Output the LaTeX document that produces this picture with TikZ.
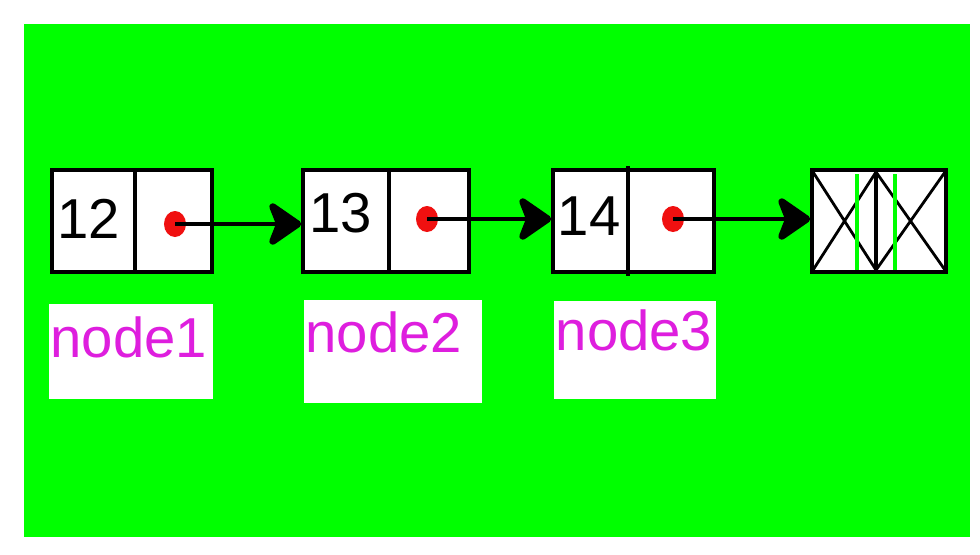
\documentclass[tikz,border=0pt]{standalone}
\usepackage{fontspec}
\setmainfont{Liberation Sans}
\usetikzlibrary{arrows.meta,shapes.geometric}
\definecolor{bggreen}{RGB}{0,255,0}
\definecolor{labelmag}{RGB}{222,30,222}
\definecolor{dotred}{RGB}{240,16,16}

\begin{document}
\begin{tikzpicture}[x=0.01cm, y=-0.01cm,
  listbox/.style={draw=black, line width=1pt, fill=white, inner sep=0pt, minimum height=1.02cm},
  ptrdot/.style={ellipse, fill=dotred, inner sep=0pt, minimum width=0.22cm, minimum height=0.26cm},
  ptr/.style={line width=1.4pt, -{Stealth[length=3.8mm, width=5.2mm, inset=1mm, round, line width=3pt 0 1]}},
  valtext/.style={anchor=base west, inner sep=0pt, font=\fontsize{16}{18}\selectfont},
  labbox/.style={fill=white, inner sep=0pt, anchor=north west},
  labtext/.style={anchor=base west, inner sep=0pt, text=labelmag, font=\fontsize{16}{18}\selectfont}]
  \useasboundingbox (0,0) rectangle (980,554);
  % Green background
  \fill[bggreen] (24,24) rectangle (970,537);

  % List nodes
  \node[listbox, minimum width=1.60cm] (box1) at (132,221) {};
  \node[listbox, minimum width=1.66cm] (box2) at (386,221) {};
  \node[listbox, minimum width=1.61cm] (box3) at (633.5,221) {};
  \node[listbox, minimum width=1.34cm] (nullbox) at (879,221) {};
  \draw[line width=1pt] (135,172) -- (135,272);
  \draw[line width=1pt] (389,170) -- (389,272);
  \draw[line width=1pt] (628,166) -- (628,276);
  \draw[line width=1pt] (876,170) -- (876,272);

  \node[valtext] (val1) at (57,238) {12};
  \node[valtext] (val2) at (309,232) {13};
  \node[valtext] (val3) at (557,235) {14};

  % Null node
  \draw[line width=0.8pt] (813,172) -- (876,270) (813,270) -- (876,172);
  \draw[line width=0.8pt] (876,172) -- (945,270) (876,270) -- (945,172);
  \draw[bggreen, line width=1.2pt] (857,174) -- (857,270);
  \draw[bggreen, line width=1.2pt] (895,174) -- (895,270);

  % Pointers
  \node[ptrdot] (dot1) at (175,224) {};
  \node[ptrdot] (dot2) at (427,219) {};
  \node[ptrdot] (dot3) at (673,219) {};
  \draw[ptr] (dot1.center) -- (dot1.center -| box2.west);
  \draw[ptr] (dot2.center) -- (dot2.center -| box3.west);
  \draw[ptr] (dot3.center) -- (dot3.center -| nullbox.west);

  % Labels
  \node[labbox, minimum width=1.64cm, minimum height=0.95cm] (lab1) at (48,303) {};
  \node[labbox, minimum width=1.78cm, minimum height=1.03cm] (lab2) at (303,299) {};
  \node[labbox, minimum width=1.62cm, minimum height=0.98cm] (lab3) at (553,300) {};
  \node[labtext] (txt1) at (50,357) {node1};
  \node[labtext] (txt2) at (305,352) {node2};
  \node[labtext] (txt3) at (555,350) {node3};
\end{tikzpicture}
\end{document}
